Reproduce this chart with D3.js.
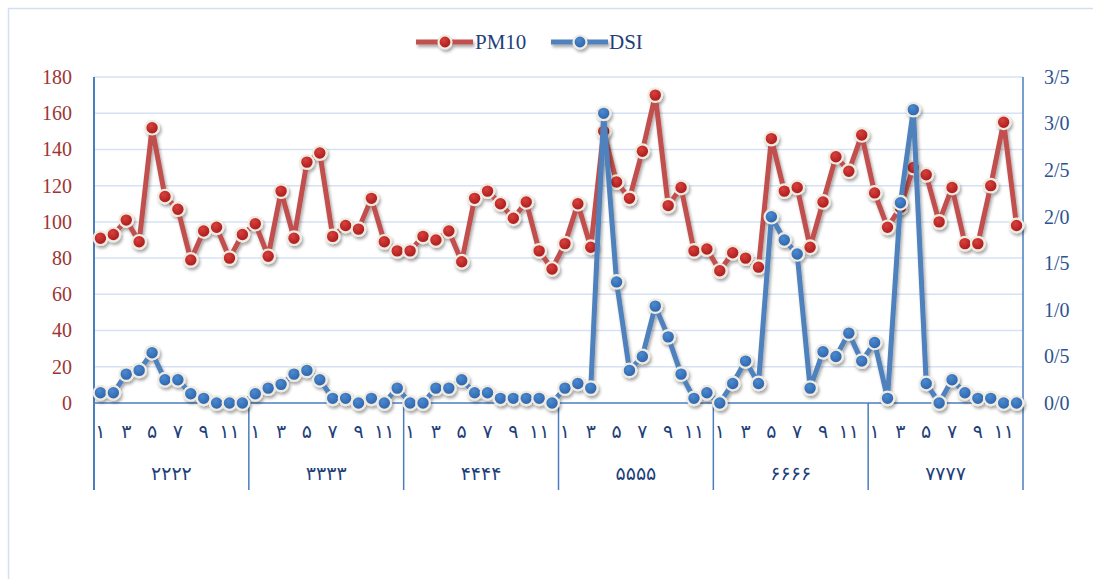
<!DOCTYPE html>
<html>
<head>
<meta charset="utf-8">
<script src="https://cdn.jsdelivr.net/npm/d3@7"></script>
<style>
  body { margin: 0; background: #fff; }
  svg { display: block; }
</style>
</head>
<body>
<div id="chart"></div>
<script>
// Data
const years = ["۲۲۲۲", "۳۳۳۳", "۴۴۴۴", "۵۵۵۵", "۶۶۶۶", "۷۷۷۷"];
const monthLabels = ["۱", "۲", "۳", "۴", "۵", "۶", "۷", "۸", "۹", "۱۰", "۱۱", "۱۲"];

const pm10 = [
    91, 93, 101, 89, 152, 114, 107, 79, 95, 97, 80, 93,
    99, 81, 117, 91, 133, 138, 92, 98, 96, 113, 89, 84,
    84, 92, 90, 95, 78, 113, 117, 110, 102, 111, 84, 74,
    88, 110, 86, 150, 122, 113, 139, 170, 109, 119, 84, 85,
    73, 83, 80, 75, 146, 117, 119, 86, 111, 136, 128, 148,
    116, 97, 108, 130, 126, 100, 119, 88, 88, 120, 155, 98
];

const dsi = [
    0.11, 0.11, 0.31, 0.35, 0.54, 0.25, 0.25, 0.10, 0.05, 0, 0, 0,
    0.10, 0.16, 0.20, 0.31, 0.35, 0.25, 0.05, 0.05, 0, 0.05, 0, 0.16,
    0, 0, 0.16, 0.16, 0.25, 0.11, 0.11, 0.05, 0.05, 0.05, 0.05, 0,
    0.16, 0.21, 0.16, 3.11, 1.30, 0.35, 0.50, 1.04, 0.71, 0.31, 0.05, 0.11,
    0, 0.21, 0.45, 0.21, 2.00, 1.75, 1.60, 0.16, 0.55, 0.50, 0.75, 0.45,
    0.65, 0.05, 2.15, 3.15, 0.21, 0, 0.25, 0.11, 0.05, 0.05, 0, 0
];

const leftTicks = [0, 20, 40, 60, 80, 100, 120, 140, 160, 180];
const rightTicks = [0, 0.5, 1, 1.5, 2, 2.5, 3, 3.5];

const width = 1093, height = 579;
const plot = { left: 94, right: 1023, top: 77, bottom: 403 };

const svg = d3.select("#chart").append("svg")
    .attr("width", width)
    .attr("height", height);

// Drop shadow + marker gradients
const defs = svg.append("defs");
const shadow = defs.append("filter").attr("id", "shadow")
    .attr("x", "-50%").attr("y", "-50%").attr("width", "200%").attr("height", "200%");
shadow.append("feDropShadow")
    .attr("dx", 1.5).attr("dy", 2.5).attr("stdDeviation", 1.8)
    .attr("flood-color", "#000").attr("flood-opacity", 0.35);

function gradient(id, light, dark) {
    const g = defs.append("radialGradient").attr("id", id)
        .attr("cx", "40%").attr("cy", "35%").attr("r", "65%");
    g.append("stop").attr("offset", "0%").attr("stop-color", light);
    g.append("stop").attr("offset", "100%").attr("stop-color", dark);
}
gradient("redDot", "#d8403c", "#a8191c");
gradient("blueDot", "#4c8ad0", "#2b62ab");

// Outer frame
svg.append("rect")
    .attr("x", 8.5).attr("y", 8.5)
    .attr("width", 1100).attr("height", 600)
    .attr("fill", "none")
    .attr("stroke", "#d3e0f1")
    .attr("stroke-width", 1.5);

// Scales
const idx = d3.range(pm10.length);
const x = d3.scaleBand().domain(idx).range([plot.left, plot.right]);
const yLeft = d3.scaleLinear().domain([0, 180]).range([plot.bottom, plot.top]);
const yRight = d3.scaleLinear().domain([0, 3.5]).range([plot.bottom, plot.top]);
const cx = i => x(i) + x.bandwidth() / 2;

// Gridlines
svg.append("g")
    .selectAll("line")
    .data(leftTicks.filter(d => d > 0))
    .enter().append("line")
    .attr("x1", plot.left).attr("x2", plot.right)
    .attr("y1", d => yLeft(d)).attr("y2", d => yLeft(d))
    .attr("stroke", "#d6e2f3")
    .attr("stroke-width", 1.5);

// Left axis
const leftAxis = svg.append("g")
    .attr("transform", `translate(${plot.left},0)`)
    .call(d3.axisLeft(yLeft).tickValues(leftTicks).tickSize(0).tickPadding(22));
leftAxis.select(".domain").remove();
leftAxis.selectAll("text")
    .attr("fill", "#9e3535")
    .style("font-family", "'Liberation Serif', serif")
    .style("font-size", "20px");

// Right axis
const rightAxis = svg.append("g")
    .attr("transform", `translate(${plot.right},0)`)
    .call(d3.axisRight(yRight).tickValues(rightTicks).tickSize(0).tickPadding(21)
        .tickFormat(d => d3.format(".1f")(d).replace(".", "/")));
rightAxis.select(".domain").remove();
rightAxis.selectAll("text")
    .attr("fill", "#2d5390")
    .style("font-family", "'Liberation Serif', serif")
    .style("font-size", "20px");

// Axis lines
const axisColor = "#4a7ebf";
svg.append("line")
    .attr("x1", plot.left).attr("x2", plot.left)
    .attr("y1", plot.top).attr("y2", 490)
    .attr("stroke", axisColor).attr("stroke-width", 2);
svg.append("line")
    .attr("x1", plot.right).attr("x2", plot.right)
    .attr("y1", plot.top).attr("y2", 490)
    .attr("stroke", axisColor).attr("stroke-width", 1.5);
svg.append("line")
    .attr("x1", plot.left).attr("x2", plot.right)
    .attr("y1", plot.bottom).attr("y2", plot.bottom)
    .attr("stroke", axisColor).attr("stroke-width", 1.5);

// Year dividers
svg.append("g")
    .selectAll("line")
    .data(d3.range(1, years.length))
    .enter().append("line")
    .attr("x1", d => x(d * 12)).attr("x2", d => x(d * 12))
    .attr("y1", plot.bottom).attr("y2", 490)
    .attr("stroke", axisColor).attr("stroke-width", 1.5);

// Month labels (odd months)
svg.append("g")
    .selectAll("text")
    .data(idx.filter(i => i % 2 === 0))
    .enter().append("text")
    .attr("x", i => cx(i))
    .attr("y", 438)
    .attr("text-anchor", "middle")
    .attr("fill", "#1f3f7a")
    .style("font-family", "'DejaVu Sans', sans-serif")
    .style("font-size", "19px")
    .text(i => monthLabels[i % 12]);

// Year labels
svg.append("g")
    .selectAll("text")
    .data(years)
    .enter().append("text")
    .attr("x", (d, i) => (x(i * 12) + x(i * 12 + 11) + x.bandwidth()) / 2)
    .attr("y", 480)
    .attr("text-anchor", "middle")
    .attr("fill", "#1f3f7a")
    .style("font-family", "'DejaVu Sans', sans-serif")
    .style("font-size", "19px")
    .text(d => d);

// Series
const series = [
    { name: "PM10", values: pm10, y: yLeft, line: "#c0504d", dot: "url(#redDot)" },
    { name: "DSI", values: dsi, y: yRight, line: "#4f81bd", dot: "url(#blueDot)" }
];

series.forEach(s => {
    const g = svg.append("g").attr("filter", "url(#shadow)");
    const line = d3.line()
        .x((d, i) => cx(i))
        .y(d => s.y(d));
    g.append("path")
        .datum(s.values)
        .attr("d", line)
        .attr("fill", "none")
        .attr("stroke", s.line)
        .attr("stroke-width", 5)
        .attr("stroke-linejoin", "round");
    g.selectAll("circle")
        .data(s.values)
        .enter().append("circle")
        .attr("cx", (d, i) => cx(i))
        .attr("cy", d => s.y(d))
        .attr("r", 6.8)
        .attr("fill", s.dot)
        .attr("stroke", "#efebe0")
        .attr("stroke-width", 2.2);
});

// Legend
const legend = svg.append("g");
const legendItems = [
    { s: series[0], x: 416, tx: 475 },
    { s: series[1], x: 551, tx: 609 }
];
legendItems.forEach(item => {
    const g = legend.append("g").attr("filter", "url(#shadow)");
    g.append("line")
        .attr("x1", item.x).attr("x2", item.x + 57)
        .attr("y1", 42).attr("y2", 42)
        .attr("stroke", item.s.line)
        .attr("stroke-width", 5);
    g.append("circle")
        .attr("cx", item.x + 29).attr("cy", 42)
        .attr("r", 6.5)
        .attr("fill", item.s.dot)
        .attr("stroke", "#efebe0")
        .attr("stroke-width", 2.2);
    legend.append("text")
        .attr("x", item.tx).attr("y", 49)
        .attr("fill", "#1f3f7a")
        .style("font-family", "'Liberation Serif', serif")
        .style("font-size", "21px")
        .text(item.s.name);
});
</script>
</body>
</html>
